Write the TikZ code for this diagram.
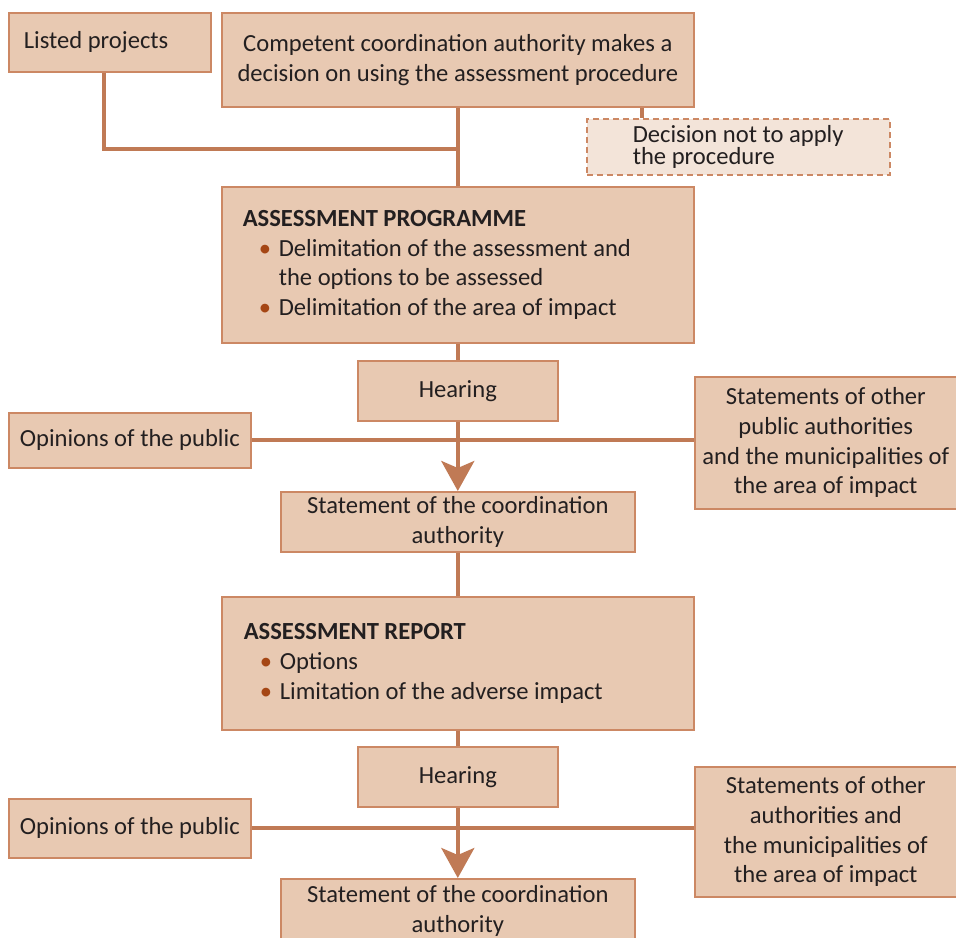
\documentclass[tikz,border=0pt]{standalone}
\usepackage{fontspec}
\setmainfont{Carlito}
\usetikzlibrary{arrows.meta}
\definecolor{boxfill}{RGB}{232,201,178}
\definecolor{boxline}{RGB}{204,136,100}
\definecolor{conn}{RGB}{192,122,85}
\definecolor{dashfill}{RGB}{243,228,217}
\definecolor{bulc}{RGB}{165,70,20}
\definecolor{txt}{RGB}{35,31,32}
\newcommand\itm{\makebox[18pt][l]{\hspace*{8pt}\textcolor{bulc}{\textbullet}}}
\newcommand\cont{\hspace*{18pt}}
\begin{document}
\begin{tikzpicture}[x=0.5pt,y=-0.5pt,
  box/.style={draw=boxline, line width=0.8pt, fill=boxfill, text=txt, anchor=north west,
    inner sep=0pt, font=\fontsize{12.3}{14.85}\selectfont, align=center},
  lbox/.style={box, align=flush left},
  dbox/.style={box, fill=dashfill, dashed, dash pattern=on 3pt off 2pt, align=flush left,
    font=\fontsize{12.3}{11}\selectfont},
  conn/.style={draw=conn, line width=2pt},
  arr/.style={conn, -{Stealth[length=15pt,width=16.5pt,inset=3.5pt]}}]
\useasboundingbox (0,0) rectangle (956,937);
% boxes
\node[lbox, minimum width=101pt, minimum height=29.5pt, text width=86pt, inner xsep=7.5pt] (listed) at (8,12) {Listed projects};
\node[box, minimum width=236pt, minimum height=47pt] (comp) at (221,12) {Competent coordination authority makes a\\decision on using the assessment procedure};
\node[dbox, minimum width=151.5pt, minimum height=28pt, text width=105.5pt, inner xsep=23pt] (decision) at (586,118) {Decision not to apply\\the procedure};
\node[lbox, minimum width=236pt, minimum height=78pt, text width=215pt, inner xsep=10.5pt] (prog) at (221,186) {\textbf{ASSESSMENT PROGRAMME}\\\itm Delimitation of the assessment and\\\cont the options to be assessed\\\itm Delimitation of the area of impact};
\node[box, minimum width=100pt, minimum height=30pt] (hear1) at (357,360) {Hearing};
\node[box, minimum width=121pt, minimum height=27.5pt] (opin1) at (8,412) {Opinions of the public};
\node[box, minimum width=131pt, minimum height=66pt] (stat1) at (694,376) {Statements of other\\public authorities\\and the municipalities of\\the area of impact};
\node[box, minimum width=177pt, minimum height=30pt] (coord1) at (280,491) {Statement of the coordination\\authority};
\node[lbox, minimum width=236pt, minimum height=66.5pt, text width=214pt, inner xsep=11pt] (rep) at (221,596) {\textbf{ASSESSMENT REPORT}\\\itm Options\\\itm Limitation of the adverse impact};
\node[box, minimum width=100pt, minimum height=30pt] (hear2) at (357,746) {Hearing};
\node[box, minimum width=121pt, minimum height=29.5pt] (opin2) at (8,798) {Opinions of the public};
\node[box, minimum width=131pt, minimum height=65pt] (stat2) at (694,766) {Statements of other\\authorities and\\the municipalities of\\the area of impact};
\node[box, minimum width=177pt, minimum height=32pt] (coord2) at (280,878) {Statement of the coordination\\authority};
% connectors
\coordinate (join) at (458,149);
\coordinate (lx) at (104,0);
\coordinate (dx) at (642,0);
\draw[conn] (listed.south -| lx) |- (join);
\draw[conn] (comp.south) -- (prog.north);
\draw[conn] (comp.south -| dx) -- (decision.north -| dx);
\draw[conn] (prog.south) -- (hear1.north);
\draw[conn] (opin1.east) -- (opin1.east -| stat1.west);
\draw[arr] (hear1.south) -- (coord1.north);
\draw[conn] (coord1.south) -- (rep.north);
\draw[conn] (rep.south) -- (hear2.north);
\draw[conn] (opin2.east) -- (opin2.east -| stat2.west);
\draw[arr] (hear2.south) -- (coord2.north);
\end{tikzpicture}
\end{document}
